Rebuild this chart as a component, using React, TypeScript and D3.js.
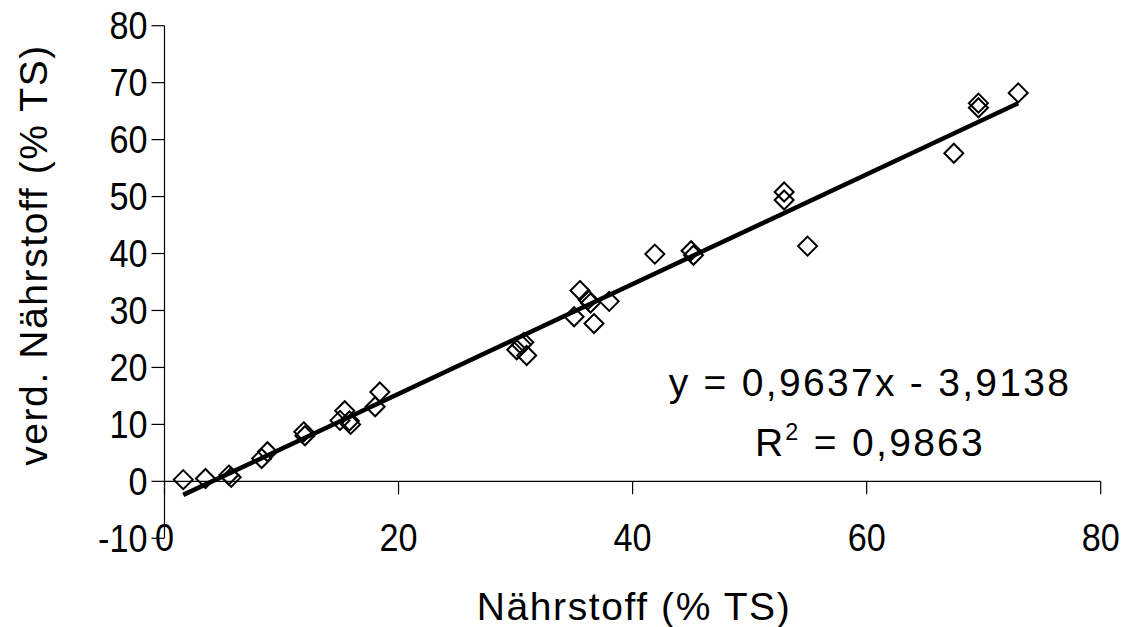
import React from 'react';
import * as d3 from 'd3';

const xValues = [1.6, 3.5, 5.5, 5.7, 8.3, 8.8, 11.9, 12.0, 15.0, 15.4, 15.9, 15.8, 18.0, 18.4, 30.1, 30.5, 30.7, 30.95, 35.0, 35.5, 36.2, 36.4, 36.7, 38.0, 41.9, 45.0, 45.2, 52.95, 52.95, 54.95, 67.45, 69.55, 69.55, 72.95];
const yValues = [0.3, 0.5, 1.1, 0.7, 4.0, 5.2, 8.7, 8.0, 10.7, 12.4, 10.0, 10.6, 13.1, 15.7, 23.1, 24.0, 24.4, 22.1, 28.9, 33.5, 31.9, 31.3, 27.7, 31.6, 39.9, 40.5, 39.7, 50.8, 49.4, 41.3, 57.6, 66.4, 65.6, 68.2];
const xTicks = [0, 20, 40, 60, 80];
const yTicks = [-10, 0, 10, 20, 30, 40, 50, 60, 70, 80];
const slope = 0.9637;
const intercept = -3.9138;
const equationLabel = 'y = 0,9637x - 3,9138';
const r2Value = '0,9863';
const xTitle = 'Nährstoff (% TS)';
const yTitle = 'verd. Nährstoff (% TS)';

const W = 1128;
const H = 627;
const FONT = '"Liberation Sans", Arial, sans-serif';
const FS = 39;
const TFS = 38;
const TSX = 0.9;

export default function App() {
  const x = d3.scaleLinear().domain([0, 80]).range([164.5, 1100.7]);
  const y = d3.scaleLinear().domain([-10, 80]).range([538.3, 25.7]);
  const r = 9.5;
  const xMin = d3.min(xValues) as number;
  const xMax = d3.max(xValues) as number;
  const line = d3.line<number>().x((d) => x(d)).y((d) => y(slope * d + intercept));
  const tl = 13;
  return (
    <svg width={W} height={H} style={{ position: 'absolute', left: 0, top: 0, background: '#fff' }} fontFamily={FONT}>
      {/* y axis */}
      <line x1={x(0)} x2={x(0)} y1={y(80)} y2={y(-10)} stroke="#000" strokeWidth={1.2} />
      {yTicks.map((t) => (
        <g key={'yt' + t}>
          <line x1={x(0) - tl} x2={x(0)} y1={y(t)} y2={y(t)} stroke="#000" strokeWidth={1.2} />
          <g transform={`translate(${x(0) - 17},${y(t)}) scale(${TSX},1)`}>
            <text dy="0.36em" textAnchor="end" fontSize={TFS} fill="#000">{t}</text>
          </g>
        </g>
      ))}
      {/* x axis at y=0 */}
      <line x1={x(0)} x2={x(80)} y1={y(0)} y2={y(0)} stroke="#000" strokeWidth={1.2} />
      {xTicks.map((t) => (
        <g key={'xt' + t}>
          <line x1={x(t)} x2={x(t)} y1={y(0)} y2={y(0) + tl} stroke="#000" strokeWidth={1.2} />
          <g transform={`translate(${x(t)},551) scale(${TSX},1)`}>
            <text textAnchor="middle" fontSize={TFS} fill="#000">{t}</text>
          </g>
        </g>
      ))}
      {/* markers */}
      {xValues.map((xv, i) => {
        const cx = x(xv);
        const cy = y(yValues[i]);
        return (
          <path key={'p' + i} d={`M${cx},${cy - r}L${cx + r},${cy}L${cx},${cy + r}L${cx - r},${cy}Z`} fill="none" stroke="#000" strokeWidth={2} />
        );
      })}
      {/* trendline */}
      <path d={line([xMin, xMax]) || ''} stroke="#000" strokeWidth={4.5} fill="none" />
      {/* equation */}
      <text x={870} y={396} textAnchor="middle" fontSize={FS} letterSpacing={2.3} fill="#000">{equationLabel}</text>
      <text x={870} y={456} textAnchor="middle" fontSize={FS} letterSpacing={2.3} fill="#000">
        R<tspan fontSize={FS * 0.6} dy={-16}>2</tspan><tspan dy={16}>{' = ' + r2Value}</tspan>
      </text>
      {/* titles */}
      <text x={634} y={620} textAnchor="middle" fontSize={FS} letterSpacing={1.6} fill="#000">{xTitle}</text>
      <text transform="translate(47,255) rotate(-90)" textAnchor="middle" fontSize={FS} letterSpacing={1.6} fill="#000">{yTitle}</text>
    </svg>
  );
}
